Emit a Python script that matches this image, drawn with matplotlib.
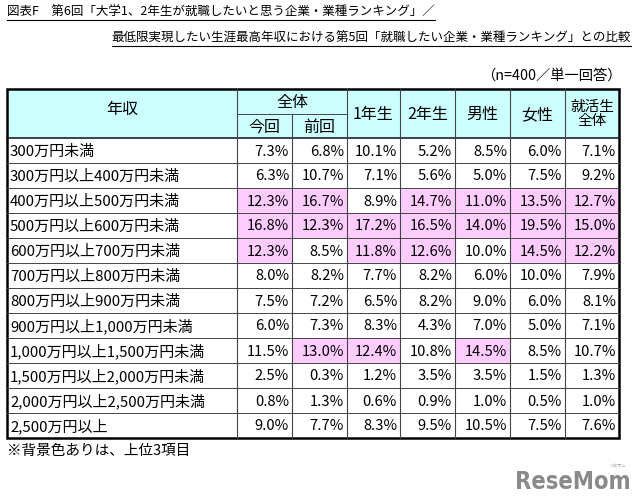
import matplotlib
matplotlib.use("Agg")
import matplotlib.pyplot as plt
from matplotlib.patches import Rectangle

plt.rcParams["font.family"] = ["Noto Sans CJK JP", "DejaVu Sans"]

TITLE1 = "図表F　第6回「大学1、2年生が就職したいと思う企業・業種ランキング」／"
TITLE2 = "最低限実現したい生涯最高年収における第5回「就職したい企業・業種ランキング」との比較"
NOTE_N = "（n=400／単一回答）"
FOOTNOTE = "※背景色ありは、上位3項目"

incomes = [
    "300万円未満", "300万円以上400万円未満", "400万円以上500万円未満",
    "500万円以上600万円未満", "600万円以上700万円未満", "700万円以上800万円未満",
    "800万円以上900万円未満", "900万円以上1,000万円未満", "1,000万円以上1,500万円未満",
    "1,500万円以上2,000万円未満", "2,000万円以上2,500万円未満", "2,500万円以上",
]
konkai = [7.3, 6.3, 12.3, 16.8, 12.3, 8.0, 7.5, 6.0, 11.5, 2.5, 0.8, 9.0]
zenkai = [6.8, 10.7, 16.7, 12.3, 8.5, 8.2, 7.2, 7.3, 13.0, 0.3, 1.3, 7.7]
first_year = [10.1, 7.1, 8.9, 17.2, 11.8, 7.7, 6.5, 8.3, 12.4, 1.2, 0.6, 8.3]
second_year = [5.2, 5.6, 14.7, 16.5, 12.6, 8.2, 8.2, 4.3, 10.8, 3.5, 0.9, 9.5]
male = [8.5, 5.0, 11.0, 14.0, 10.0, 6.0, 9.0, 7.0, 14.5, 3.5, 1.0, 10.5]
female = [6.0, 7.5, 13.5, 19.5, 14.5, 10.0, 6.0, 5.0, 8.5, 1.5, 0.5, 7.5]
job_hunters = [7.1, 9.2, 12.7, 15.0, 12.2, 7.9, 8.1, 7.1, 10.7, 1.3, 1.0, 7.6]
columns = [konkai, zenkai, first_year, second_year, male, female, job_hunters]
col_labels = ["今回", "前回", "1年生", "2年生", "男性", "女性", "就活生\n全体"]

HEAD_BG = "#ccffff"
PINK = "#ffccff"

fig = plt.figure(figsize=(6.4, 5.04), dpi=100)
ax = fig.add_axes([0, 0, 1, 1])
ax.set_xlim(0, 640)
ax.set_ylim(504, 0)
ax.axis("off")

# layout in pixels
x_edges = [7, 237, 292, 347, 400, 455, 510, 565, 619]
top, mid, head_bot, row_h = 89, 114, 138, 25.0
bottom = head_bot + row_h * len(incomes)
fs = 10.6
hfs = 11.5

# header background
ax.add_patch(Rectangle((x_edges[0], top), x_edges[-1] - x_edges[0], head_bot - top,
                       facecolor=HEAD_BG, edgecolor="none"))

# cells, top 3 of each column get the pink background
for ci, vals in enumerate(columns):
    third = sorted(vals, reverse=True)[2]
    x0, x1 = x_edges[ci + 1], x_edges[ci + 2]
    for ri, v in enumerate(vals):
        y0 = head_bot + ri * row_h
        if v >= third:
            ax.add_patch(Rectangle((x0, y0), x1 - x0, row_h, facecolor=PINK, edgecolor="none"))
        ax.text(x1 - 3, y0 + row_h / 2 + 1, f"{v:.1f}%", ha="right", va="center", fontsize=fs)

for ri, lab in enumerate(incomes):
    ax.text(x_edges[0] + 3, head_bot + ri * row_h + row_h / 2 + 1, lab,
            ha="left", va="center", fontsize=10.8)

# header texts
ax.text((x_edges[0] + x_edges[1]) / 2, (top + head_bot) / 2 - 4, "年収",
        ha="center", va="center", fontsize=hfs)
ax.text((x_edges[1] + x_edges[3]) / 2, (top + mid) / 2 + 1, "全体",
        ha="center", va="center", fontsize=hfs)
for ci, lab in enumerate(col_labels):
    xc = (x_edges[ci + 1] + x_edges[ci + 2]) / 2
    if ci < 2:
        ax.text(xc, (mid + head_bot) / 2 + 1, lab, ha="center", va="center", fontsize=hfs)
    elif "\n" in lab:
        ax.text(xc, (top + head_bot) / 2, lab, ha="center", va="center",
                fontsize=10.5, linespacing=1.0)
    else:
        ax.text(xc, (top + head_bot) / 2 + 1, lab, ha="center", va="center", fontsize=hfs)

# grid lines
for ri in range(1, len(incomes)):
    y = head_bot + ri * row_h
    ax.plot([x_edges[0], x_edges[-1]], [y, y], color="#444444", lw=0.7)
ax.plot([x_edges[0], x_edges[-1]], [head_bot, head_bot], color="#222222", lw=1.2)
ax.plot([x_edges[1], x_edges[3]], [mid, mid], color="#444444", lw=0.7)
for i, x in enumerate(x_edges[1:-1], start=1):
    y_start = mid if i == 2 else top
    ax.plot([x, x], [y_start, bottom], color="#444444", lw=0.8)
ax.add_patch(Rectangle((x_edges[0], top), x_edges[-1] - x_edges[0], bottom - top,
                       facecolor="none", edgecolor="black", lw=1.8))

# titles (underlined)
t1 = ax.text(7, 12, TITLE1, ha="left", va="center", fontsize=9)
t2 = ax.text(631, 38, TITLE2, ha="right", va="center", fontsize=9)
ax.text(622, 76, NOTE_N, ha="right", va="center", fontsize=10.3)
ax.text(7, 451, FOOTNOTE, ha="left", va="center", fontsize=10.5)

# logo
ax.text(631, 482, "ReseMom", ha="right", va="center", fontsize=17,
        fontweight="bold", color="#8a8a8a", family="DejaVu Sans", fontstretch="condensed")
ax.text(617, 466, "リセマム", ha="center", va="center", fontsize=3, color="#8a8a8a")

fig.canvas.draw()
inv = ax.transData.inverted()
for t in (t1, t2):
    bb = t.get_window_extent()
    (xa, ya), (xb, yb) = inv.transform([(bb.x0, bb.y0), (bb.x1, bb.y1)])
    ax.plot([xa, xb], [ya + 1, ya + 1], color="black", lw=0.8)

fig.savefig("out.png", dpi=100, facecolor="white")
